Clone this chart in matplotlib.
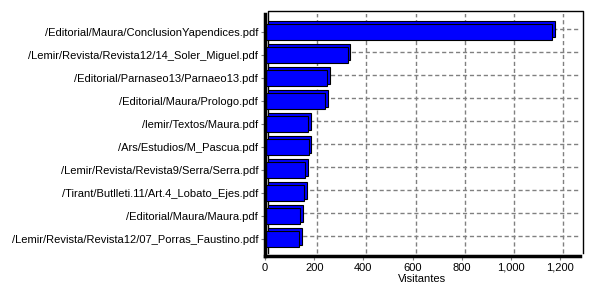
import matplotlib.pyplot as plt
from matplotlib.transforms import ScaledTranslation

files = [
    "/Editorial/Maura/ConclusionYapendices.pdf",
    "/Lemir/Revista/Revista12/14_Soler_Miguel.pdf",
    "/Editorial/Parnaseo13/Parnaeo13.pdf",
    "/Editorial/Maura/Prologo.pdf",
    "/lemir/Textos/Maura.pdf",
    "/Ars/Estudios/M_Pascua.pdf",
    "/Lemir/Revista/Revista9/Serra/Serra.pdf",
    "/Tirant/Butlleti.11/Art.4_Lobato_Ejes.pdf",
    "/Editorial/Maura/Maura.pdf",
    "/Lemir/Revista/Revista12/07_Porras_Faustino.pdf",
]
visitors = [1168, 337, 252, 244, 175, 177, 164, 160, 143, 139]
x_ticks = [0, 200, 400, 600, 800, 1000, 1200]
x_labels = ["0", "200", "400", "600", "800", "1,000", "1,200"]

plt.rcParams["font.family"] = ["Liberation Sans", "DejaVu Sans"]

fig = plt.figure(figsize=(6, 3), dpi=100)
ax = fig.add_axes([265 / 600, 44 / 300, 315 / 600, 242 / 300])

xmax = 1280
ypos = list(range(len(files)))
ax.set_xlim(0, xmax)
ax.set_ylim(9.74, -0.78)

# back wall, shifted up and right
back = ax.transData + ScaledTranslation(0.03, 0.03, fig.dpi_scale_trans)
for v in x_ticks[1:]:
    ax.plot([v, v], [9.74, -0.78], transform=back, color="gray",
            linestyle=(0, (3, 2)), linewidth=1, zorder=1)
for y in ypos:
    ax.plot([0, xmax], [y, y], transform=back, color="gray",
            linestyle=(0, (3, 2)), linewidth=1, zorder=1)
ax.plot([0, 0, xmax, xmax], [9.74, -0.78, -0.78, 9.74],
        transform=back, color="black", linewidth=1, zorder=1,
        clip_on=False)

# bars: shadow face then front face
shift = ax.transData + ScaledTranslation(0.025, 0.025, fig.dpi_scale_trans)
shadow = ax.barh(ypos, visitors, height=0.7, color="#0000ff",
                 edgecolor="black", linewidth=0.8, zorder=2)
for p in shadow:
    p.set_transform(shift)
    p.set_clip_on(False)
ax.barh(ypos, visitors, height=0.7, color="#0000ff",
        edgecolor="black", linewidth=0.8, zorder=3)

ax.set_yticks(ypos)
ax.set_yticklabels(files)
ax.set_xticks(x_ticks)
ax.set_xticklabels(x_labels)
ax.tick_params(axis="both", labelsize=8, length=3, width=0.8, pad=2,
               color="gray")
ax.set_xlabel("Visitantes", fontsize=8, labelpad=1)

for s in ["top", "right"]:
    ax.spines[s].set_visible(False)
ax.spines["left"].set_linewidth(2.5)
ax.spines["bottom"].set_linewidth(2.5)
ax.spines["left"].set_zorder(5)
ax.spines["bottom"].set_zorder(5)

fig.savefig("out.png", dpi=100)
